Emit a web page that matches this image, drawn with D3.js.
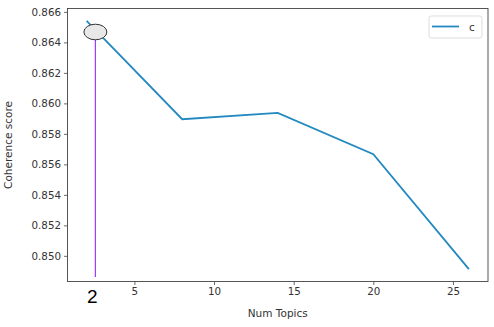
<!DOCTYPE html>
<html>
<head>
<meta charset="utf-8">
<script src="https://cdn.jsdelivr.net/npm/d3@7"></script>
<style>
  body { margin: 0; background: #fff; }
  text { font-family: "DejaVu Sans", sans-serif; }
</style>
</head>
<body>
<div id="chart"></div>
<script>
// datos
const numTopics = [2, 8, 14, 20, 26];
const coherence = [0.86541, 0.85896, 0.85938, 0.85666, 0.84913];
const xTicks = [5, 10, 15, 20, 25];
const yTicks = [0.850, 0.852, 0.854, 0.856, 0.858, 0.860, 0.862, 0.864, 0.866];
const seriesName = "c";
const markX = 2.55;      // linea vertical marcada a mano
const markLabel = "2";

const width = 494, height = 327;
const margin = { top: 8.5, right: 6, bottom: 45.5, left: 67.5 };

const svg = d3.select('#chart').append('svg')
    .attr('width', width)
    .attr('height', height);

// margenes del 5% como matplotlib
const xMin = d3.min(numTopics), xMax = d3.max(numTopics);
const yMin = d3.min(coherence), yMax = d3.max(coherence);
const xPad = (xMax - xMin) * 0.05, yPad = (yMax - yMin) * 0.05;

const x = d3.scaleLinear()
    .domain([xMin - xPad, xMax + xPad])
    .range([margin.left, width - margin.right]);
const y = d3.scaleLinear()
    .domain([yMin - yPad, yMax + yPad])
    .range([height - margin.bottom, margin.top]);

const axisColor = '#444';

// eje x
const gx = svg.append('g')
    .attr('transform', `translate(0,${height - margin.bottom})`)
    .call(d3.axisBottom(x).tickValues(xTicks).tickSize(3.5).tickPadding(3).tickFormat(d3.format('d')));
// eje y
const gy = svg.append('g')
    .attr('transform', `translate(${margin.left},0)`)
    .call(d3.axisLeft(y).tickValues(yTicks).tickSize(3.5).tickPadding(3).tickFormat(d3.format('.3f')));

[gx, gy].forEach(g => {
    g.select('.domain').remove();
    g.selectAll('line').attr('stroke', axisColor).attr('stroke-width', 0.8);
    g.selectAll('text').attr('fill', '#333').style('font-size', '10.3px')
        .style('font-family', '"DejaVu Sans", sans-serif');
});

// marco
svg.append('rect')
    .attr('x', margin.left).attr('y', margin.top)
    .attr('width', width - margin.right - margin.left)
    .attr('height', height - margin.bottom - margin.top)
    .attr('fill', 'none').attr('stroke', axisColor).attr('stroke-width', 0.9);

// linea de la serie
const line = d3.line().x((d, i) => x(numTopics[i])).y(d => y(d));
svg.append('path')
    .datum(coherence)
    .attr('d', line)
    .attr('fill', 'none')
    .attr('stroke', '#2389c0')
    .attr('stroke-width', 1.8);

// anotacion: linea morada, elipse y "2"
svg.append('line')
    .attr('x1', x(markX)).attr('x2', x(markX))
    .attr('y1', 38).attr('y2', 277)
    .attr('stroke', '#9a3cff').attr('stroke-width', 1.2);
svg.append('ellipse')
    .attr('cx', x(markX)).attr('cy', 32)
    .attr('rx', 11.5).attr('ry', 7.8)
    .attr('fill', '#e8e8e8').attr('stroke', '#333').attr('stroke-width', 1);
svg.append('text')
    .attr('x', x(markX) - 3).attr('y', 303)
    .attr('text-anchor', 'middle')
    .style('font-family', '"Liberation Sans", Arial, sans-serif')
    .style('font-size', '19px')
    .attr('fill', '#000')
    .text(markLabel);

// etiquetas de ejes
svg.append('text')
    .attr('x', (margin.left + width - margin.right) / 2)
    .attr('y', 317)
    .attr('text-anchor', 'middle')
    .attr('fill', '#333')
    .style('font-size', '10.5px')
    .text('Num Topics');
svg.append('text')
    .attr('transform', `translate(11.5,${(margin.top + height - margin.bottom) / 2}) rotate(-90)`)
    .attr('text-anchor', 'middle')
    .attr('fill', '#333')
    .style('font-size', '10.5px')
    .text('Coherence score');

// leyenda
const lg = svg.append('g').attr('transform', 'translate(429,16)');
lg.append('rect')
    .attr('width', 53).attr('height', 22).attr('rx', 2.5)
    .attr('fill', '#fff').attr('stroke', '#ddd').attr('stroke-width', 1);
lg.append('line')
    .attr('x1', 3).attr('x2', 30).attr('y1', 10.5).attr('y2', 10.5)
    .attr('stroke', '#2389c0').attr('stroke-width', 1.8);
lg.append('text')
    .attr('x', 40).attr('y', 14.5)
    .attr('fill', '#333')
    .style('font-size', '10.5px')
    .text(seriesName);
</script>
</body>
</html>
